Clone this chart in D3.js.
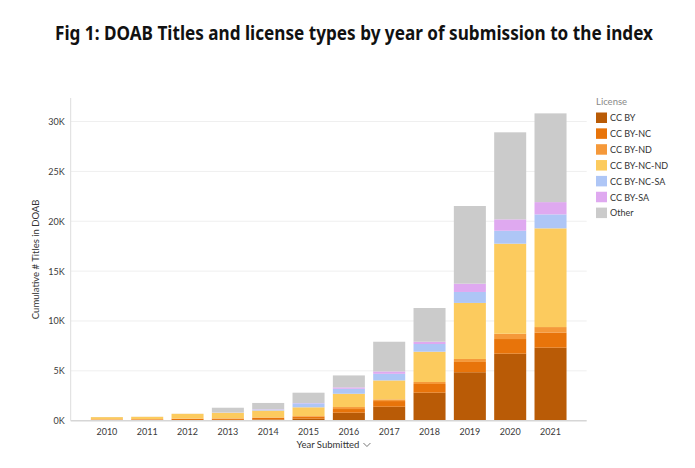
<!DOCTYPE html>
<html>
<head>
<meta charset="utf-8">
<script src="https://cdn.jsdelivr.net/npm/d3@7"></script>
<style>
  body { margin: 0; background: #fff; }
  text { font-family: Lato, "Open Sans", sans-serif; }
</style>
</head>
<body>
<div id="chart"></div>
<script>
// values (cumulative titles per licence)
var years    = ["2010","2011","2012","2013","2014","2015","2016","2017","2018","2019","2020","2021"];
var licenses = ["CC BY","CC BY-NC","CC BY-ND","CC BY-NC-ND","CC BY-NC-SA","CC BY-SA","Other"];
var colors   = ["#b95b06","#e8740a","#f5993a","#fccb5e","#aec6f6","#dfa9f0","#cbcbcb"];

var ccBy     = [30, 40, 60, 80, 130, 200, 800, 1400, 2810, 4860, 6720, 7320];
var ccByNc   = [80, 90, 120, 120, 140, 200, 370, 570, 870, 1030, 1470, 1500];
var ccByNd   = [30, 30, 40, 40, 60, 70, 200, 170, 200, 300, 530, 570];
var ccByNcNd = [220, 230, 470, 560, 690, 874, 1330, 1900, 3040, 5620, 9030, 9900];
var ccByNcSa = [0, 0, 0, 20, 100, 400, 500, 660, 770, 1100, 1300, 1400];
var ccBySa   = [0, 0, 0, 10, 30, 30, 140, 240, 230, 830, 1140, 1230];
var other    = [10, 10, 10, 470, 630, 1034, 1200, 2980, 3380, 7790, 8730, 8900];

var yTicks = [0, 5000, 10000, 15000, 20000, 25000, 30000];

var series = [ccBy, ccByNc, ccByNd, ccByNcNd, ccByNcSa, ccBySa, other];

(function() {
    // build rows for the stack
    var rows = years.map(function(yr, i) {
        var r = { year: yr };
        licenses.forEach(function(l, j) { r[l] = series[j][i]; });
        return r;
    });

    var W = 695, H = 468;
    var pLeft = 70.7, pRight = 586.7, pTop = 98, pBottom = 420.7;

    var svg = d3.select("#chart").append("svg").attr("width", W).attr("height", H);

    // title, squeezed horizontally to the width of the original (narrow) font
    var tg = svg.append("g");
    var title = tg.append("text")
        .attr("x", 0).attr("y", 0)
        .attr("text-anchor", "middle")
        .style("font-family", "'Noto Sans', 'Open Sans', sans-serif")
        .style("font-weight", "700").style("font-size", "19.5px").attr("fill", "#111")
        .text("Fig 1: DOAB Titles and license types by year of submission to the index");
    var natural = title.node().getComputedTextLength();
    tg.attr("transform", "translate(354,40) scale(" + (598 / natural) + ",1)");

    var stacked = d3.stack().keys(licenses)(rows);
    var totalMax = d3.max(rows, function(r) { return d3.sum(licenses, function(l) { return r[l]; }); });

    var x = d3.scaleBand().domain(years).range([pLeft, pRight]).paddingInner(0.206).paddingOuter(0.5);
    var y = d3.scaleLinear().domain([0, totalMax * 1.05]).range([pBottom, pTop]);

    // gridlines
    svg.append("g").selectAll("line").data(yTicks.slice(1)).enter()
        .append("line")
        .attr("x1", pLeft).attr("x2", pRight)
        .attr("y1", function(d) { return y(d); }).attr("y2", function(d) { return y(d); })
        .attr("stroke", "#efefef").attr("stroke-width", 1);

    // left axis line
    svg.append("line").attr("x1", pLeft).attr("x2", pLeft).attr("y1", pTop).attr("y2", pBottom)
        .attr("stroke", "#ddd").attr("stroke-width", 1);

    // bars
    svg.append("g").selectAll("g").data(stacked).enter()
        .append("g").attr("fill", function(d, i) { return colors[i]; })
        .selectAll("rect").data(function(d) { return d; }).enter()
        .append("rect")
        .attr("x", function(d) { return x(d.data.year); })
        .attr("width", x.bandwidth())
        .attr("y", function(d) { return y(d[1]); })
        .attr("height", function(d) { return Math.max(0, y(d[0]) - y(d[1])); });

    // zero line
    svg.append("line").attr("x1", pLeft).attr("x2", pRight).attr("y1", pBottom).attr("y2", pBottom)
        .attr("stroke", "#d6d6d6").attr("stroke-width", 1.5);

    // y axis
    var yAxis = d3.axisLeft(y).tickValues(yTicks).tickSize(0).tickPadding(6)
        .tickFormat(function(d) { return (d / 1000) + "K"; });
    var gy = svg.append("g").attr("transform", "translate(" + pLeft + ",0)").call(yAxis);
    gy.select(".domain").remove();
    gy.selectAll("text").style("font-size", "9px").attr("fill", "#3a3a3a");

    // x axis
    var xAxis = d3.axisBottom(x).tickSize(0).tickPadding(8);
    var gx = svg.append("g").attr("transform", "translate(0," + pBottom + ")").call(xAxis);
    gx.select(".domain").remove();
    gx.selectAll("text").style("font-size", "9px").attr("fill", "#3a3a3a");

    // axis titles
    svg.append("text")
        .attr("transform", "translate(39," + ((pTop + pBottom) / 2) + ") rotate(-90)")
        .attr("text-anchor", "middle")
        .style("font-size", "9.5px").attr("fill", "#333")
        .text("Cumulative # Titles in DOAB");

    var xt = svg.append("text")
        .attr("x", 328).attr("y", 448)
        .attr("text-anchor", "middle")
        .style("font-size", "9.5px").attr("fill", "#333")
        .text("Year Submitted");
    var tw = xt.node().getComputedTextLength();
    var cx = 328 + tw / 2 + 4;
    svg.append("path")
        .attr("d", "M" + cx + ",443 l3.5,3.5 l3.5,-3.5")
        .attr("fill", "none").attr("stroke", "#555").attr("stroke-width", 0.8);

    // legend
    var lg = svg.append("g").attr("transform", "translate(596,0)");
    lg.append("text").attr("x", 0).attr("y", 105)
        .style("font-size", "9.5px").attr("fill", "#888").text("License");
    var item = lg.selectAll(".item").data(licenses).enter()
        .append("g").attr("class", "item")
        .attr("transform", function(d, i) { return "translate(0," + (112.5 + i * 15.85) + ")"; });
    item.append("rect").attr("width", 11).attr("height", 10.5)
        .attr("fill", function(d, i) { return colors[i]; });
    item.append("text").attr("x", 14).attr("y", 8.8)
        .style("font-size", "9px").attr("fill", "#333")
        .text(function(d) { return d; });
})();
</script>
</body>
</html>
